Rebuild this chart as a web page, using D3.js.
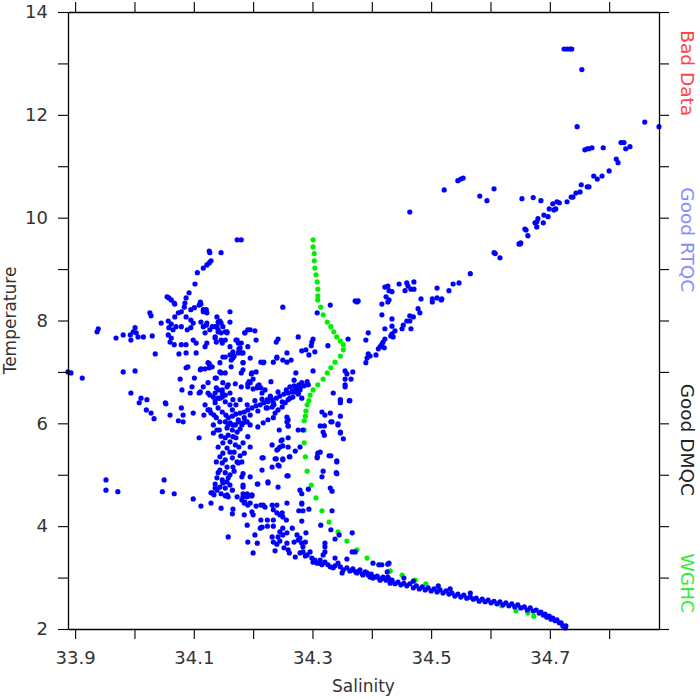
<!DOCTYPE html>
<html><head><meta charset="utf-8">
<script src="https://cdn.jsdelivr.net/npm/d3@7"></script>
<style>
html,body{margin:0;padding:0;background:#fff;}
text{font-family:"DejaVu Sans",sans-serif;}
</style></head>
<body><svg id="chart" width="700" height="700"></svg>
<script>
// ---- axis ticks ----
const xTickValues = [33.9,34.0,34.1,34.2,34.3,34.4,34.5,34.6,34.7,34.8];
const xTickLabels = ["33.9","","34.1","","34.3","","34.5","","34.7",""];
const yTickValues = [2,3,4,5,6,7,8,9,10,11,12,13,14];
const yTickLabels = ["2","","4","","6","","8","","10","","12","","14"];
const xDomain = [33.888, 34.884];
const yDomain = [2, 14];

// ---- legend (right-hand labels) ----
const legendLabels = ["Bad Data","Good RTQC","Good DMQC","WGHC"];
const legendColors = ["#ff4444","#8a8aff","#222222","#33ee33"];
const legendCenterT = [12.81, 9.57, 5.68, 2.89];

// ---- data: [salinity, temperature] ----
const upperTail = [
[34.724,13.28],[34.729,13.28],[34.734,13.28],[34.737,13.28],[34.754,12.88],[34.746,11.77],[34.860,11.86],[34.884,11.77],
[34.759,11.32],[34.763,11.34],[34.766,11.34],[34.771,11.36],[34.790,11.36],[34.820,11.46],[34.825,11.46],[34.828,11.34],[34.835,11.38],
[34.812,11.14],[34.815,11.07],[34.800,10.91],[34.788,10.81],[34.774,10.81],[34.780,10.75],[34.766,10.60],[34.763,10.60],[34.753,10.64],
[34.751,10.50],[34.744,10.48],[34.739,10.40],[34.736,10.40],[34.729,10.31],[34.716,10.29],[34.712,10.31],[34.705,10.27],[34.710,10.17],
[34.707,10.15],[34.699,10.17],[34.697,10.02],[34.690,10.05],[34.689,9.90],[34.680,9.98],[34.678,9.92],[34.675,9.90],[34.678,9.82],
[34.658,9.78],[34.663,9.65],[34.651,9.51],[34.648,9.49],[34.685,10.33],[34.672,10.39],[34.653,10.37],[34.606,10.56],[34.594,10.33],
[34.582,10.42],[34.545,10.72],[34.550,10.75],[34.554,10.77],[34.522,10.54],[34.464,10.11],[34.606,9.32],[34.608,9.30],[34.616,9.22],
[34.566,8.91],[34.650,9.49],[34.660,9.76]
];
const middleRise = [
[34.422,8.65],[34.427,8.67],[34.429,8.58],[34.434,8.56],[34.446,8.71],[34.459,8.73],[34.461,8.67],[34.456,8.58],[34.466,8.61],[34.471,8.61],[34.471,8.75],
[34.424,8.46],[34.429,8.40],[34.427,8.36],[34.417,8.32],[34.372,8.38],[34.377,8.38],[34.510,8.63],[34.530,8.58],[34.537,8.71],[34.547,8.73],
[34.483,8.42],[34.502,8.42],[34.502,8.36],[34.510,8.44],[34.517,8.40],[34.518,8.42],[34.478,8.23],[34.481,8.15],[34.464,8.09],[34.470,8.07],
[34.459,7.99],[34.464,7.99],[34.453,7.91],[34.451,7.84],[34.466,7.84],[34.434,8.03],[34.434,7.89],[34.439,7.80],[34.434,7.74],[34.436,7.68],
[34.432,7.70],[34.422,7.84],[34.417,8.11],[34.422,7.64],[34.419,7.58],[34.417,7.54],[34.414,7.49],[34.411,7.45],[34.421,7.47],[34.394,7.76],
[34.390,7.62],[34.394,7.35],[34.397,7.31],[34.392,7.27],[34.390,7.18],[34.360,7.64],[34.355,7.02],[34.358,6.96],[34.368,7.00],[34.365,6.86],
[34.355,6.86],[34.355,6.75],[34.355,6.71],[34.363,6.44],[34.347,6.44],[34.347,6.14],[34.407,7.33],[34.335,6.59],[34.347,6.46],[34.347,6.40],
[34.362,6.44],[34.316,6.22],[34.321,6.16],[34.330,6.20],[34.333,6.03],[34.313,5.95],[34.320,5.95],[34.343,5.99],[34.347,5.83],[34.352,5.70],
[34.328,5.37],[34.341,5.27],[34.340,5.04],[34.318,5.07],[34.316,4.96],[34.330,4.74],[34.333,4.68],[34.309,5.42],[34.308,5.35],[34.279,4.70],
[34.293,4.72],[34.250,8.26],[34.308,8.15],[34.330,8.30],[34.375,8.36],[34.276,7.68],[34.301,7.64],[34.299,7.58],[34.298,7.51],[34.289,7.43],
[34.282,7.41],[34.304,7.39],[34.294,7.33],[34.257,7.37],[34.264,7.23],[34.326,7.51],[34.301,7.02],[34.291,6.81],[34.272,6.98],[34.269,6.84],
[34.242,7.64],[34.239,7.58],[34.240,7.29],[34.250,7.23]
];
const upperLeft = [
[34.173,9.57],[34.180,9.57],[34.126,9.35],[34.127,9.32],[34.146,9.32],[34.129,9.16],[34.126,9.12],[34.122,9.08],[34.116,9.02],[34.106,8.93],
[34.102,8.71],[34.092,8.54],[34.087,8.44],[34.085,8.34],[34.055,8.46],[34.058,8.44],[34.062,8.40],[34.067,8.34],[34.068,8.32],[34.111,8.36],
[34.112,8.32],[34.109,8.30],[34.084,8.26],[34.079,8.17],[34.101,8.25],[34.095,8.21],[34.121,8.21],[34.116,8.17],[34.161,8.17],[34.074,8.15],
[34.026,8.15],[34.028,8.09],[34.068,8.07],[34.057,7.99],[34.045,7.95],[34.087,8.07],[34.095,8.01],[34.099,7.95],[34.139,8.07],[34.144,7.99],
[34.146,7.95],[34.161,7.97],[34.062,7.93],[34.058,7.86],[34.070,7.88],[34.065,7.82],[34.079,7.88],[34.089,7.82],[34.095,7.86],[34.112,7.97],
[34.116,7.88],[34.121,7.91],[34.127,7.82],[34.119,7.76],[34.136,7.88],[34.141,7.82],[34.146,7.76],[34.153,7.78],[33.939,7.84],[33.937,7.78],
[34.001,7.86],[33.998,7.78],[34.003,7.76],[33.993,7.72],[34.006,7.68],[33.981,7.72],[33.969,7.66],[33.994,7.62],[34.015,7.68],[34.030,7.70],
[34.057,7.72],[34.062,7.66],[34.060,7.58],[34.067,7.53],[34.079,7.53],[34.087,7.53],[34.099,7.62],[34.104,7.56],[34.136,7.68],[34.146,7.62],
[34.138,7.58],[34.156,7.76],[34.171,7.62],[34.180,7.56],[34.186,7.76],[34.191,7.82],[34.203,7.80],[34.205,7.62],[34.122,7.56],[34.161,7.49],
[34.178,7.47],[34.183,7.37],[34.175,7.37],[34.075,7.35],[34.087,7.37],[34.104,7.37],[34.035,7.35],[34.153,7.29],[34.168,7.31],[34.163,7.23],
[34.163,7.10],[34.195,7.27],[34.183,7.18],[34.218,7.19],[34.090,7.10],[34.087,7.08],[34.112,7.06],[34.119,7.06],[34.126,7.16],[34.126,7.08],
[33.888,7.00],[33.893,6.98],[33.912,6.88],[33.981,7.00],[34.001,7.02],[34.138,6.88],[34.146,6.98],[34.153,6.98],[34.077,6.86],[34.101,6.88],
[34.180,6.98],[34.197,6.96],[34.205,7.00],[34.195,6.79],[34.191,6.77],[34.170,6.77],[34.158,6.75],[34.180,6.71],[34.097,6.71],[34.080,6.65],
[34.094,6.59],[34.109,6.59],[34.124,6.59],[34.138,6.69],[34.148,6.65],[34.136,6.59],[34.208,6.73],[34.213,6.69],[34.200,6.67],[33.994,6.59],
[34.011,6.49],[34.008,6.40],[34.021,6.46],[34.020,6.26],[34.028,6.20],[34.033,6.09],[34.052,6.40],[34.053,6.38],[34.060,6.16],[34.079,6.30],
[34.082,6.16],[34.074,6.05],[34.082,6.03],[34.099,6.20],[34.117,6.16],[34.124,6.26],[34.129,6.20],[34.136,6.40],[34.141,6.49],[34.148,6.51],
[34.148,6.59],[34.116,8.21],[34.122,8.15],[34.141,7.97],[34.122,7.95],[34.131,7.88],[34.139,7.88],[34.141,7.78],[34.149,7.88],[34.156,7.78],
[34.136,7.66],[34.119,7.49],[34.153,7.62],[34.148,7.56],[34.161,7.33],[34.166,7.27],[34.149,7.29],[34.144,7.18],[34.124,7.18],[34.131,7.10],
[34.111,7.04],[34.144,7.00],[34.136,6.88],[34.124,6.79],[34.116,6.71],[34.149,6.79],[34.156,6.71],[34.141,6.65],[34.133,6.51],[34.153,6.55],
[34.161,6.59],[34.166,6.46],[34.111,6.61],[34.191,7.49],[34.195,7.82],[34.186,7.76],[34.173,7.62],[34.175,7.56],[34.166,7.39],[34.176,7.45],
[34.181,7.37],[34.183,7.18],[34.183,7.04],[34.198,6.98],[34.200,6.86],[34.193,6.81],[34.191,6.71],[34.210,6.75],[34.207,6.69],[34.215,6.59],
[34.230,6.81],[34.220,6.65],[34.229,6.51],[34.224,6.46],[34.234,6.40],[34.232,6.32],[34.224,6.30],[34.213,7.19],[34.217,7.18],[34.234,7.19],
[34.240,7.27],[34.257,7.19]
];
const diagonalStreak = [
[34.277,6.75],[34.274,6.71],[34.271,6.61],[34.276,6.59],[34.279,6.65],[34.282,6.49],[34.262,6.71],[34.266,6.61],[34.267,6.51],[34.259,6.46],
[34.254,6.40],[34.249,6.32],[34.242,6.26],[34.237,6.20],[34.234,6.11],[34.225,6.07],[34.217,6.01],[34.208,5.93],[34.257,6.12],[34.257,6.03],
[34.259,5.95],[34.158,6.11],[34.165,6.14],[34.171,6.18],[34.178,6.20],[34.185,6.22],[34.191,6.26],[34.198,6.30],[34.205,6.34],[34.212,6.36],
[34.218,6.40],[34.225,6.42],[34.232,6.46],[34.239,6.49],[34.245,6.53],[34.252,6.57],[34.259,6.59],[34.266,6.63],[34.272,6.67],[34.279,6.69],
[34.286,6.73],[34.293,6.75],[34.190,6.36],[34.203,6.44],[34.215,6.47],[34.229,6.53],[34.242,6.61],[34.256,6.65],[34.269,6.73],[34.282,6.79],
[34.195,6.16],[34.208,6.24],[34.222,6.30],[34.235,6.36],[34.249,6.42],[34.262,6.49],[34.276,6.57],[34.175,6.07],[34.185,6.11],[34.188,6.03],
[34.127,6.55],[34.136,6.46],[34.144,6.49],[34.153,6.42],[34.161,6.36],[34.141,6.30],[34.148,6.22],[34.134,6.16],[34.154,6.16],[34.165,6.26],
[34.171,6.36],[34.178,6.46],[34.119,6.36],[34.127,6.26],[34.138,6.11],[34.158,5.97],[34.170,5.97],[34.181,5.97],[34.144,6.03],[34.133,5.97]
];
const spineAndScatter = [
[34.153,6.03],[34.161,6.01],[34.166,5.97],[34.175,6.03],[34.183,6.01],[34.190,6.03],[34.195,5.97],[34.156,5.91],[34.165,5.87],[34.173,5.83],
[34.178,5.89],[34.158,5.77],[34.166,5.74],[34.153,5.72],[34.149,5.62],[34.161,5.64],[34.170,5.58],[34.156,5.52],[34.149,5.42],[34.161,5.44],
[34.144,5.35],[34.153,5.29],[34.165,5.33],[34.173,5.25],[34.148,5.23],[34.156,5.15],[34.166,5.15],[34.144,5.09],[34.153,5.04],[34.161,5.00],
[34.139,4.94],[34.148,4.90],[34.156,4.86],[34.161,4.80],[34.144,4.76],[34.153,4.74],[34.139,4.70],[34.158,4.94],[34.149,4.84],[34.143,5.87],
[34.146,5.75],[34.171,5.72],[34.176,5.54],[34.141,5.54],[34.168,5.44],[34.138,5.25],[34.178,5.37],[34.141,5.04],[34.168,5.07],[34.136,4.82],
[34.165,4.70],[34.146,4.63],[34.156,4.61],[34.134,4.61],[34.191,5.74],[34.183,5.62],[34.195,5.54],[34.185,5.42],[34.181,5.25],[34.195,4.96],
[34.181,4.96],[34.183,4.76],[34.175,5.23],[34.133,5.81],[34.139,5.87],[34.109,5.72],[34.050,4.90],[34.047,4.67],[34.067,4.63],[34.099,4.53],
[34.112,4.39],[34.129,4.65],[34.129,4.45],[34.146,4.35],[34.158,3.79],[34.165,4.24],[34.166,4.33],[34.153,4.59],[33.952,4.90],[33.952,4.70],
[33.972,4.67],[34.173,4.57],[34.183,4.63],[34.190,4.61],[34.181,4.51],[34.186,4.47],[34.191,4.41],[34.198,4.59],[34.207,4.82],[34.225,4.86],
[34.185,4.22],[34.198,4.28],[34.200,4.22],[34.205,4.39],[34.213,4.41],[34.217,4.41],[34.220,4.37],[34.213,4.12],[34.224,4.12],[34.234,4.12],
[34.215,3.98],[34.212,3.96],[34.224,4.00],[34.234,4.00],[34.190,4.02],[34.203,3.83],[34.207,3.67],[34.191,3.69],[34.200,3.48],[34.232,4.41],
[34.240,4.41],[34.234,4.32],[34.240,4.26],[34.245,4.22],[34.250,4.18],[34.249,4.26],[34.257,4.45],[34.256,4.12],[34.250,3.96],[34.245,3.89],
[34.250,3.83],[34.257,3.87],[34.242,3.79],[34.232,3.79],[34.234,3.69],[34.240,3.65],[34.245,3.71],[34.257,3.67],[34.259,3.54],[34.252,3.58],
[34.261,3.48],[34.237,3.52],[34.266,3.96],[34.274,3.83],[34.269,3.69],[34.276,3.73],[34.279,3.77],[34.282,3.67],[34.284,3.60],[34.288,3.69],
[34.289,3.87],[34.282,4.10],[34.284,4.30],[34.282,4.45],[34.282,4.63],[34.215,5.33],[34.232,5.15],[34.239,5.31],[34.250,5.31],[34.244,5.17],
[34.261,5.35],[34.259,4.98],[34.242,4.76],[34.197,4.59],[34.185,4.45],[34.190,4.57],[34.195,4.45],[34.244,5.87],[34.247,5.66],[34.250,5.56],
[34.242,5.50],[34.271,5.46],[34.276,5.87],[34.259,5.95],[34.259,6.07],[34.318,5.83],[34.320,5.77],[34.331,6.03],[34.343,5.97],[34.347,5.81],
[34.313,5.44],[34.308,5.33],[34.331,5.37],[34.341,5.25],[34.341,5.02],[34.331,3.93],[34.321,3.67],[34.338,3.75],[34.345,3.83],[34.367,3.87],
[34.358,3.36],[34.321,3.60],[34.321,3.50],[34.314,4.02],[34.333,4.30],[34.294,4.33],[34.277,4.30],[34.282,4.43],[34.249,5.68],[34.245,5.54],
[34.240,5.48],[34.232,5.58],[34.259,5.72],[34.259,5.54],[34.262,5.35],[34.250,5.29],[34.242,5.19],[34.217,5.33],[34.237,5.31],[34.215,5.09],
[34.225,4.84],[34.208,4.82],[34.257,4.98],[34.279,5.54],[34.284,5.87],[34.183,5.02],[34.183,4.80],[34.190,4.63],[34.198,4.61],[34.183,4.57],
[34.158,4.57],[34.131,4.65],[34.136,4.74]
];
const lowerArc = [
[34.271,3.40],[34.279,3.48],[34.284,3.50],[34.291,3.44],[34.296,3.50],[34.299,3.38],[34.301,3.30],[34.308,3.28],[34.313,3.34],[34.316,3.25],
[34.318,3.44],[34.321,3.30],[34.330,3.21],[34.335,3.19],[34.338,3.38],[34.343,3.28],[34.347,3.21],[34.352,3.15],[34.350,3.09],[34.358,3.19],
[34.367,3.50],[34.372,3.50],[34.368,3.15],[34.375,3.09],[34.380,3.15],[34.385,3.05],[34.392,3.09],[34.397,3.01],[34.402,2.99],[34.409,3.01],
[34.414,2.95],[34.419,2.99],[34.427,3.01],[34.431,2.89],[34.402,3.28],[34.412,3.25],[34.427,3.26],[34.417,3.25],[34.426,3.11],[34.429,3.28],
[34.434,2.95],[34.439,2.88],[34.444,2.91],[34.449,2.86],[34.454,2.89],[34.459,2.84],[34.464,2.88],[34.470,2.80],[34.475,2.84],[34.480,2.78],
[34.485,2.82],[34.490,2.76],[34.495,2.80],[34.500,2.74],[34.505,2.78],[34.510,2.72],[34.515,2.76],[34.520,2.70],[34.525,2.74],[34.530,2.68],
[34.535,2.70],[34.540,2.64],[34.545,2.68],[34.550,2.62],[34.555,2.66],[34.560,2.60],[34.566,2.62],[34.571,2.58],[34.576,2.60],[34.581,2.54],
[34.586,2.58],[34.591,2.53],[34.596,2.56],[34.601,2.51],[34.606,2.54],[34.611,2.49],[34.616,2.53],[34.621,2.47],[34.626,2.51],[34.631,2.45],
[34.636,2.49],[34.641,2.43],[34.646,2.47],[34.651,2.41],[34.657,2.43],[34.662,2.37],[34.667,2.41],[34.672,2.35],[34.677,2.37],[34.682,2.31],
[34.685,2.33],[34.689,2.27],[34.692,2.29],[34.695,2.23],[34.699,2.25],[34.702,2.19],[34.705,2.21],[34.709,2.16],[34.712,2.18],[34.716,2.12],
[34.719,2.12],[34.722,2.06],[34.726,2.02],[34.727,2.06],[34.470,2.93],[34.512,2.84],[34.532,2.78],[34.566,2.70],[34.454,2.99],
[34.363,3.13],[34.368,3.17],[34.373,3.11],[34.379,3.13],[34.384,3.07],[34.389,3.11],[34.394,3.05],[34.399,3.07],[34.404,3.01],[34.409,3.03],
[34.414,2.97],[34.419,3.01],[34.424,2.95],[34.429,2.97],[34.304,3.34],[34.313,3.28],[34.326,3.25],[34.338,3.23],[34.288,3.42]
];
const wghcProfile = [
[34.301,9.57],[34.301,9.43],[34.303,9.30],[34.303,9.16],[34.304,9.02],[34.306,8.89],[34.308,8.75],[34.309,8.61],[34.309,8.48],[34.309,8.40],
[34.314,8.26],[34.318,8.11],[34.325,7.97],[34.331,7.88],[34.336,7.78],[34.341,7.68],[34.347,7.60],[34.352,7.53],[34.352,7.43],[34.347,7.31],
[34.338,7.19],[34.331,7.08],[34.325,6.98],[34.318,6.86],[34.309,6.75],[34.301,6.65],[34.296,6.55],[34.294,6.44],[34.291,6.36],[34.289,6.24],
[34.288,6.14],[34.286,6.05],[34.286,5.87],[34.286,5.62],[34.288,5.35],[34.291,5.07],[34.298,4.80],[34.306,4.55],[34.316,4.30],[34.328,4.08],
[34.343,3.89],[34.358,3.71],[34.375,3.54],[34.392,3.38],[34.412,3.25],[34.431,3.13],[34.451,3.05],[34.473,2.95],[34.491,2.88],[34.512,2.80],
[34.619,2.45],[34.643,2.35],[34.663,2.31],[34.673,2.25]
];
const blueGroups = [upperTail, middleRise, upperLeft, diagonalStreak, spineAndScatter, lowerArc];

// ---- drawing ----
const svg = d3.select("#chart");
const m = {left:68, right:659, top:12, bottom:629};
const x = d3.scaleLinear().domain(xDomain).range([m.left, m.right]);
const y = d3.scaleLinear().domain(yDomain).range([m.bottom, m.top]);

const plot = svg.append("g");
plot.append("g").selectAll("circle").data(wghcProfile).join("circle")
  .attr("cx", d => x(d[0])).attr("cy", d => y(d[1])).attr("r", 2.6).attr("fill", "#00ee00");
blueGroups.forEach(g => {
  plot.append("g").selectAll("circle").data(g).join("circle")
    .attr("cx", d => x(d[0])).attr("cy", d => y(d[1])).attr("r", 2.6).attr("fill", "#0000ff");
});

function styleAxis(g){
  g.selectAll(".domain").attr("stroke","#000").attr("stroke-width",1.3);
  g.selectAll(".tick line").attr("stroke","#000").attr("stroke-width",1.1);
  g.selectAll(".tick text").attr("fill","#333").style("font-family","DejaVu Sans").style("font-size","18px");
}
const xb = svg.append("g").attr("transform",`translate(0,${m.bottom})`)
  .call(d3.axisBottom(x).tickValues(xTickValues).tickFormat((d,i)=>xTickLabels[i]).tickSize(10).tickSizeOuter(0).tickPadding(12));
styleAxis(xb);
const xt = svg.append("g").attr("transform",`translate(0,${m.top})`)
  .call(d3.axisTop(x).tickValues(xTickValues).tickFormat("").tickSize(10).tickSizeOuter(0));
styleAxis(xt);
const yl = svg.append("g").attr("transform",`translate(${m.left},0)`)
  .call(d3.axisLeft(y).tickValues(yTickValues).tickFormat((d,i)=>yTickLabels[i]).tickSize(10).tickSizeOuter(0).tickPadding(10));
styleAxis(yl);
const yr = svg.append("g").attr("transform",`translate(${m.right},0)`)
  .call(d3.axisRight(y).tickValues(yTickValues).tickFormat("").tickSize(10).tickSizeOuter(0));
styleAxis(yr);

svg.append("text").attr("x",(m.left+m.right)/2).attr("y",692).attr("text-anchor","middle")
  .attr("fill","#333").style("font-size","17px").text("Salinity");
svg.append("text").attr("transform",`translate(16,${(m.top+m.bottom)/2}) rotate(-90)`).attr("text-anchor","middle")
  .attr("fill","#333").style("font-size","17px").text("Temperature");

legendLabels.forEach((t,i)=>{
  svg.append("text").attr("transform",`translate(681,${y(legendCenterT[i])}) rotate(90)`)
    .attr("text-anchor","middle").attr("fill",legendColors[i]).style("font-size","18.5px").text(t);
});
</script></body></html>
